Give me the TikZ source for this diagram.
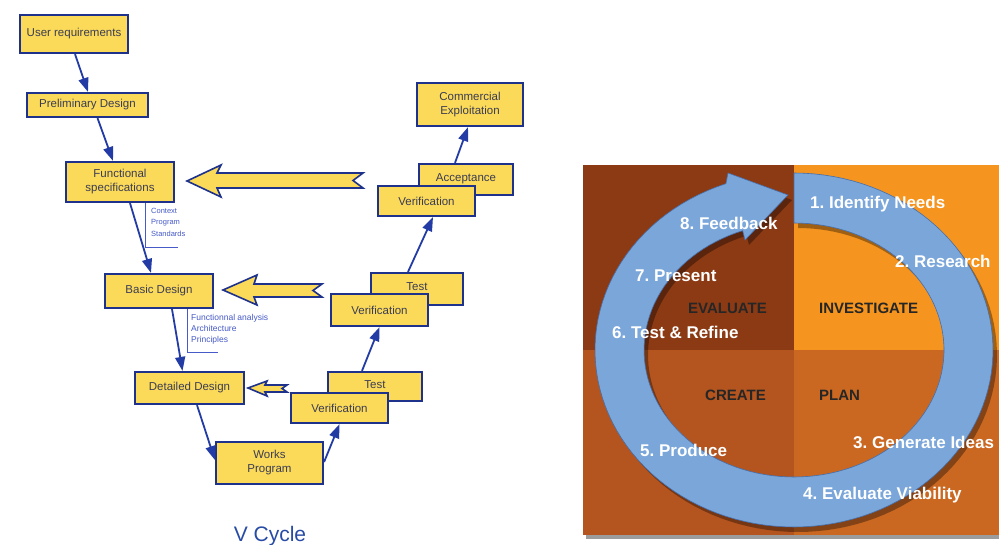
\documentclass[tikz,border=0pt]{standalone}
\usepackage{fontspec}
\setmainfont{Liberation Sans}
\usetikzlibrary{arrows.meta,calc}
\frenchspacing
\definecolor{vyellow}{RGB}{250,218,88}
\definecolor{vborder}{RGB}{30,50,140}
\definecolor{varrow}{RGB}{35,60,165}
\definecolor{vtext}{RGB}{60,60,85}
\definecolor{anncol}{RGB}{70,90,200}
\definecolor{vtitle}{RGB}{40,75,165}
\definecolor{qtl}{RGB}{140,58,20}
\definecolor{qtr}{RGB}{245,148,30}
\definecolor{qbl}{RGB}{180,84,30}
\definecolor{qbr}{RGB}{202,104,34}
\definecolor{ringblue}{RGB}{122,166,218}
\definecolor{ringedge}{RGB}{70,110,170}
\begin{document}
\begin{tikzpicture}[x=1pt,y=-1pt,
 vbox/.style={draw=vborder,line width=2.2pt,fill=vyellow,inner sep=0pt,align=center,text=vtext,font=\fontsize{11.5}{14}\selectfont},
 flow/.style={draw=varrow,line width=1.8pt,-{Triangle[length=14pt,width=10pt]}},
 blockarrow/.style={draw=vborder,line width=1.6pt,fill=vyellow,line join=miter},
 ann/.style={anchor=north west,align=left,text=anncol,inner sep=0pt},
 bracket/.style={draw=anncol,line width=1pt},
 ringlbl/.style={anchor=base west,text=white,font=\bfseries\fontsize{17}{20}\selectfont,inner sep=0pt},
 quadlbl/.style={anchor=base west,text=black!85,font=\bfseries\fontsize{15}{18}\selectfont,inner sep=0pt}]
\useasboundingbox (0,0) rectangle (999,545);
\fill[white] (0,0) rectangle (999,545);

% ---------------- V cycle ----------------
\node[vbox,minimum width=108pt,minimum height=38pt] (ur) at (74,34) {User requirements};
\node[vbox,minimum width=121pt,minimum height=24pt] (pd) at (87.5,105) {Preliminary Design};
\node[vbox,minimum width=108pt,minimum height=40pt] (fs) at (120,182) {Functional\\specifications};
\node[vbox,minimum width=108pt,minimum height=34pt] (bd) at (159,291) {Basic Design};
\node[vbox,minimum width=109pt,minimum height=32pt] (dd) at (189.5,388) {Detailed Design};
\node[vbox,minimum width=107pt,minimum height=42pt] (wp) at (269.5,463) {Works\\Program};

\node[vbox,minimum width=94pt,minimum height=29pt] (tb) at (375,386.5) {\raisebox{4pt}{Test}};
\node[vbox,minimum width=97pt,minimum height=30pt] (vb) at (339.5,408) {Verification};
\node[vbox,minimum width=92pt,minimum height=32pt] (tm) at (417,289) {\raisebox{5pt}{Test}};
\node[vbox,minimum width=97pt,minimum height=32pt] (vm) at (379.5,310) {Verification};
\node[vbox,minimum width=94pt,minimum height=31pt] (ac) at (466,179.5) {\raisebox{4pt}{Acceptance}};
\node[vbox,minimum width=97pt,minimum height=30pt] (vt) at (426.5,201) {Verification};
\node[vbox,minimum width=106pt,minimum height=43pt] (ce) at (470,104.5) {Commercial\\Exploitation};

\draw[flow] ([xshift=1pt]ur.south) -- ([xshift=0.5pt]pd.north);
\draw[flow] ([xshift=10pt]pd.south) -- ([xshift=-7pt]fs.north);
\draw[flow] ([xshift=10pt]fs.south) -- ([xshift=-8pt]bd.north);
\draw[flow] ([xshift=13pt]bd.south) -- ([xshift=-7pt]dd.north);
\draw[flow] ([xshift=7.5pt]dd.south) -- ([yshift=3pt]wp.west);
\draw[flow] ([yshift=1pt]wp.east) -- (vb.south);
\draw[flow] ([xshift=-13pt]tb.north) -- (vm.south);
\draw[flow] ([xshift=-9pt]tm.north) -- ([xshift=6.5pt]vt.south);
\draw[flow] ([xshift=-11pt]ac.north) -- ([xshift=-2pt]ce.south);

\draw[blockarrow] (187,181) -- (221,165) -- (217,173) -- (363,173) -- (353,180.5) -- (363,188) -- (217,188) -- (221,197) -- cycle;
\draw[blockarrow] (223,290) -- (257,275) -- (254,284) -- (322,284) -- (313,290.5) -- (322,297) -- (254,297) -- (257,305) -- cycle;
\draw[blockarrow] (248,388) -- (267,381) -- (265,385) -- (287,385) -- (282,388.5) -- (287,392) -- (265,392) -- (267,396) -- cycle;

\node[ann,font=\fontsize{7.5}{11.5}\selectfont] (ann1) at (151,208) {Context\\Program\\Standards};
\draw[bracket] (145,203) -- (145,248) -- (178,248);
\node[ann,font=\fontsize{8.5}{11}\selectfont] (ann2) at (191,314) {Functionnal analysis\\Architecture\\Principles};
\draw[bracket] (187,309) -- (187,353) -- (218,353);

\node[anchor=base,text=vtitle,font=\fontsize{21}{24}\selectfont,inner sep=0pt] (vc) at (270,541) {V Cycle};

% ---------------- Design cycle ----------------
\fill[black!55,opacity=0.7] (586,168) rectangle (999,539);
\fill[qtl] (583,165) rectangle (794,350);
\fill[qtr] (794,165) rectangle (999,350);
\fill[qbl] (583,350) rectangle (794,535);
\fill[qbr] (794,350) rectangle (999,535);

\begin{scope}[shift={(798,355)}]
\fill[black,opacity=0.35] plot[domain=90:-250,samples=120] ({199*cos(\x)},{-177*sin(\x)}) -- (-66,-177) -- (-6,-155) -- (-49,-110) -- plot[domain=-250:90,samples=120] ({150*cos(\x)},{-127*sin(\x)}) -- cycle;
\end{scope}
\begin{scope}[shift={(794,350)}]
\filldraw[fill=ringblue,draw=ringedge,line width=0.6pt] plot[domain=90:-250,samples=120] ({199*cos(\x)},{-177*sin(\x)}) -- (-66,-177) -- (-6,-155) -- (-49,-110) -- plot[domain=-250:90,samples=120] ({150*cos(\x)},{-127*sin(\x)}) -- cycle;
\end{scope}

\node[ringlbl] (l1) at (810,209) {1. Identify Needs};
\node[ringlbl] (l2) at (895,268) {2. Research};
\node[ringlbl] (l3) at (853,448) {3. Generate Ideas};
\node[ringlbl] (l4) at (803,499) {4. Evaluate Viability};
\node[ringlbl] (l5) at (640,456) {5. Produce};
\node[ringlbl] (l6) at (612,339) {6. Test \& Refine};
\node[ringlbl] (l7) at (635,282) {7. Present};
\node[ringlbl] (l8) at (680,230) {8. Feedback};

\node[quadlbl] (q1) at (688,313.5) {EVALUATE};
\node[quadlbl] (q2) at (819,313.5) {INVESTIGATE};
\node[quadlbl] (q3) at (705,400.5) {CREATE};
\node[quadlbl] (q4) at (819,400.5) {PLAN};
\end{tikzpicture}
\end{document}
